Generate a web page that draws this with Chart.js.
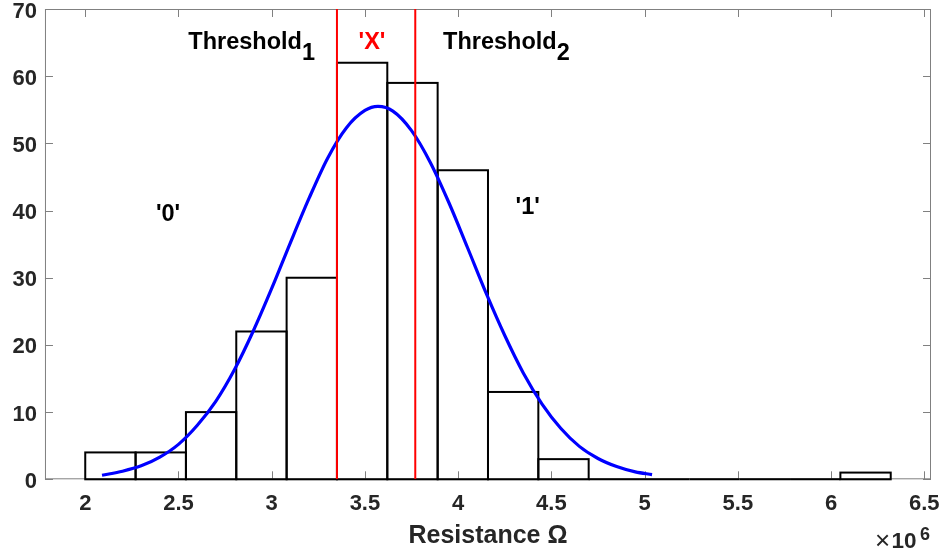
<!DOCTYPE html>
<html>
<head>
<meta charset="UTF-8">
<title>Resistance histogram</title>
<script src="https://cdn.jsdelivr.net/npm/chart.js"></script>
<style>
  html, body { margin: 0; padding: 0; background: #fff; }
  #wrap { width: 944px; height: 557px; }
</style>
</head>
<body>
<div id="wrap"><canvas id="chart"></canvas></div>
<script>
// histogram bins, x in units of 1e6 ohm
const binCenters = [2.135, 2.405, 2.675, 2.945, 3.215, 3.485, 3.755, 4.025,
                    4.295, 4.565, 4.835, 5.105, 5.375, 5.645, 5.915, 6.185];
const counts = [4, 4, 10, 22, 30, 62, 59, 46, 13, 3, 0, 0, 0, 0, 0, 1];

// fitted curve
const fitX = [2.09, 2.2, 2.3, 2.4, 2.5, 2.6, 2.7, 2.8, 2.9, 3.0, 3.1, 3.2, 3.3, 3.4, 3.5, 3.57,
              3.65, 3.75, 3.85, 3.95, 4.05, 4.15, 4.25, 4.35, 4.45, 4.55, 4.65, 4.75, 4.85, 4.95, 5.04];
const fitY = [0.6, 1.2, 2.0, 3.3, 5.2, 8.0, 11.6, 16.3, 22.0, 28.4, 35.2, 41.8, 47.8, 52.3, 54.9, 55.5,
              54.8, 51.9, 47.2, 41.2, 34.5, 27.7, 21.4, 15.8, 11.2, 7.6, 4.9, 3.1, 1.9, 1.1, 0.7];

const thresholds = [3.35, 3.77];

const xTicks = [2, 2.5, 3, 3.5, 4, 4.5, 5, 5.5, 6, 6.5];
const yTicks = [0, 10, 20, 30, 40, 50, 60, 70];

const FONT = '"Liberation Sans", Arial, Helvetica, sans-serif';
const AXIS = '#808080';
const LABEL = '#262626';

const notes = [
  { text: 'Threshold', sub: '1', x: 2.553, y: 64.0, color: '#000000' },
  { text: "'X'", x: 3.466, y: 64.1, color: '#ff0000' },
  { text: 'Threshold', sub: '2', x: 3.919, y: 64.0, color: '#000000' },
  { text: "'0'", x: 2.379, y: 38.5, color: '#000000' },
  { text: "'1'", x: 4.308, y: 39.5, color: '#000000' }
];

const framePlugin = {
  id: 'frame',
  beforeDatasetsDraw(chart) {
    const { ctx, chartArea: a, scales: { x, y } } = chart;
    ctx.save();
    ctx.strokeStyle = AXIS;
    ctx.lineWidth = 1;
    ctx.strokeRect(a.left + 0.5, a.top + 0.5, a.right - a.left - 1, a.bottom - a.top - 1);
    ctx.beginPath();
    xTicks.forEach(v => {
      const px = Math.round(x.getPixelForValue(v)) + 0.5;
      ctx.moveTo(px, a.bottom); ctx.lineTo(px, a.bottom - 8);
      ctx.moveTo(px, a.top); ctx.lineTo(px, a.top + 8);
    });
    yTicks.forEach(v => {
      const py = Math.round(y.getPixelForValue(v)) + 0.5;
      ctx.moveTo(a.left, py); ctx.lineTo(a.left + 8, py);
      ctx.moveTo(a.right, py); ctx.lineTo(a.right - 8, py);
    });
    ctx.stroke();
    ctx.restore();
  },
  afterDatasetDraw(chart, args) {
    if (args.index !== 0) return;
    const ctx = chart.ctx;
    ctx.save();
    ctx.strokeStyle = '#000000';
    ctx.lineWidth = 2;
    args.meta.data.forEach(bar => {
      const p = bar.getProps(['x', 'y', 'base', 'width'], true);
      ctx.strokeRect(p.x - p.width / 2, p.y, p.width, p.base - p.y);
    });
    ctx.restore();
  },
  afterDraw(chart) {
    const { ctx, chartArea: a, scales: { x, y } } = chart;
    ctx.save();
    ctx.textBaseline = 'alphabetic';
    ctx.textAlign = 'left';
    ctx.font = 'bold 23.5px ' + FONT;
    notes.forEach(n => {
      const px = x.getPixelForValue(n.x);
      const py = y.getPixelForValue(n.y);
      ctx.fillStyle = n.color;
      ctx.fillText(n.text, px, py);
      if (n.sub) {
        ctx.fillText(n.sub, px + ctx.measureText(n.text).width, py + 11);
      }
    });
    // exponent label under the right end of the x axis
    ctx.fillStyle = LABEL;
    ctx.font = '26px ' + FONT;
    ctx.fillText('\u00d7', a.right - 56, 549);
    ctx.font = 'bold 22.5px ' + FONT;
    ctx.fillText('10', a.right - 39.5, 547.5);
    ctx.font = 'bold 18px ' + FONT;
    ctx.fillText('6', a.right - 11, 539.5);
    ctx.restore();
  }
};

const ctx = document.getElementById('chart').getContext('2d');
new Chart(ctx, {
  type: 'bar',
  data: {
    datasets: [
      {
        type: 'bar',
        data: binCenters.map((c, i) => ({ x: c, y: counts[i] })),
        backgroundColor: 'rgba(0,0,0,0)',
        borderWidth: 0,
        barPercentage: 1,
        categoryPercentage: 1,
        grouped: false,
        order: 3
      },
      {
        type: 'line',
        data: fitX.map((v, i) => ({ x: v, y: fitY[i] })),
        borderColor: '#0000ff',
        borderWidth: 3.2,
        pointRadius: 0,
        cubicInterpolationMode: 'monotone',
        fill: false,
        order: 2
      },
      {
        type: 'line',
        data: [{ x: thresholds[0], y: 0 }, { x: thresholds[0], y: 70 }],
        borderColor: '#ff0000',
        borderWidth: 2,
        pointRadius: 0,
        fill: false,
        order: 1
      },
      {
        type: 'line',
        data: [{ x: thresholds[1], y: 0 }, { x: thresholds[1], y: 70 }],
        borderColor: '#ff0000',
        borderWidth: 2,
        pointRadius: 0,
        fill: false,
        order: 1
      }
    ]
  },
  options: {
    responsive: true,
    maintainAspectRatio: false,
    animation: false,
    layout: { padding: { left: 4.5, right: 13, top: 9, bottom: 5.5 } },
    plugins: { legend: { display: false }, tooltip: { enabled: false } },
    scales: {
      x: {
        type: 'linear',
        offset: false,
        min: 1.784,
        max: 6.536,
        afterBuildTicks: s => { s.ticks = xTicks.map(v => ({ value: v })); },
        afterFit: s => { s.paddingLeft = 0; s.paddingRight = 0; },
        grid: { display: false, drawTicks: false },
        border: { display: false },
        ticks: {
          padding: 11,
          color: LABEL,
          maxRotation: 0,
          autoSkip: false,
          font: { family: FONT, size: 22, weight: 'bold' },
          callback: v => String(v)
        },
        title: {
          display: true,
          text: 'Resistance \u03a9',
          color: LABEL,
          padding: { top: -6.2, bottom: 0 },
          font: { family: FONT, size: 25, weight: 'bold' }
        }
      },
      y: {
        min: 0,
        max: 70,
        afterBuildTicks: s => { s.ticks = yTicks.map(v => ({ value: v })); },
        afterFit: s => { s.paddingTop = 0; s.paddingBottom = 0; },
        grid: { display: false, drawTicks: false },
        border: { display: false },
        ticks: {
          padding: 8,
          labelOffset: 2.5,
          color: LABEL,
          font: { family: FONT, size: 22, weight: 'bold' }
        }
      }
    }
  },
  plugins: [framePlugin]
});
</script>
</body>
</html>
